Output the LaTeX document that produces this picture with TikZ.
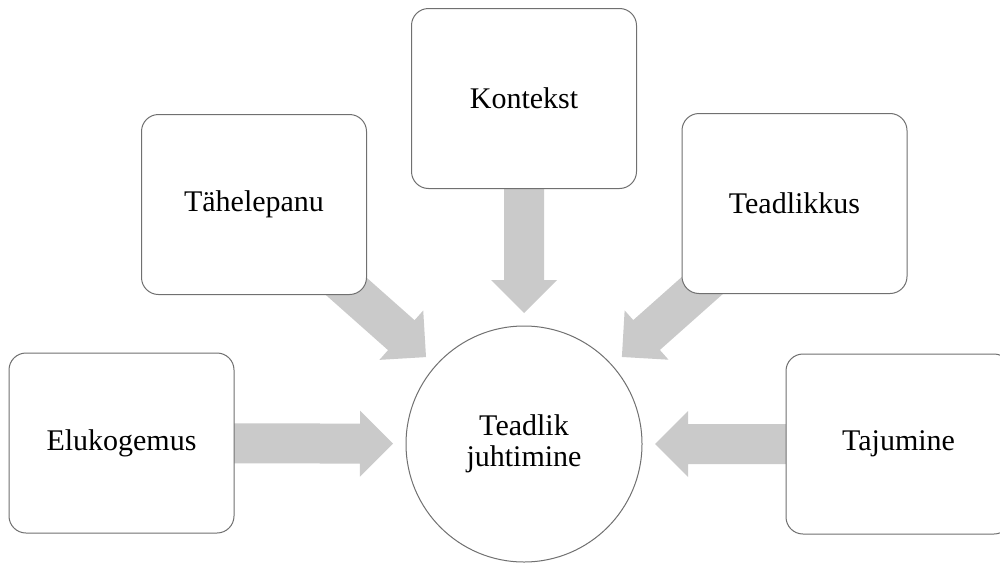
\documentclass[tikz,border=0pt]{standalone}
\usepackage{fontspec}
\setmainfont{Liberation Serif}
\usetikzlibrary{calc,backgrounds}

\definecolor{arrowfill}{RGB}{202,202,202}
\definecolor{edgegray}{RGB}{112,112,112}

\tikzset{
  termbox/.style={draw=edgegray, line width=1pt, fill=white,
    rounded corners=17pt, minimum width=225pt, minimum height=180pt,
    inner sep=0pt, align=center, font=\fontsize{30}{31}\selectfont},
  hub/.style={draw=edgegray, line width=1pt, fill=white, circle,
    minimum size=236pt, inner sep=0pt, align=center,
    font=\fontsize{30}{31}\selectfont},
  blockarrow/.style={fill=arrowfill, draw=none}
}

% block arrow from the centre of #1 towards the centre of #2,
% its tip stopping short of the hub
\newcommand\feedarrow[2]{%
  \path coordinate (tip) at ($(#2)!131pt!(#1)$)
        coordinate (neck) at ($(#2)!164pt!(#1)$);
  \fill[blockarrow]
    ($(#1)!20pt!90:(tip)$) -- ($(neck)!20pt!90:(tip)$) --
    ($(neck)!33pt!90:(tip)$) -- (tip) --
    ($(neck)!33pt!-90:(tip)$) -- ($(neck)!20pt!-90:(tip)$) --
    ($(#1)!20pt!-90:(tip)$) -- cycle;
}

\begin{document}
\begin{tikzpicture}[x=1pt, y=-1pt]
  \useasboundingbox (0,0) rectangle (1000,562);
  \clip (0,0) rectangle (1000,562);

  \node[hub] (hubnode) at (524,444) {Teadlik\\juhtimine};

  \node[termbox] (kon) at (524,98.5) {Kontekst};
  \node[termbox] (tah) at (254,204.5) {Tähelepanu};
  \node[termbox] (tea) at (794.5,203.5) {Teadlikkus};
  \node[termbox] (elu) at (121.5,443) {Elukogemus};
  \node[termbox] (taj) at (898.5,444) {Tajumine};

  \begin{pgfonlayer}{background}
    \fill[white] (0,0) rectangle (1000,562);
    \feedarrow{kon}{hubnode}
    \feedarrow{tah}{hubnode}
    \feedarrow{tea}{hubnode}
    \feedarrow{elu}{hubnode}
    \feedarrow{taj}{hubnode}
  \end{pgfonlayer}
\end{tikzpicture}
\end{document}
